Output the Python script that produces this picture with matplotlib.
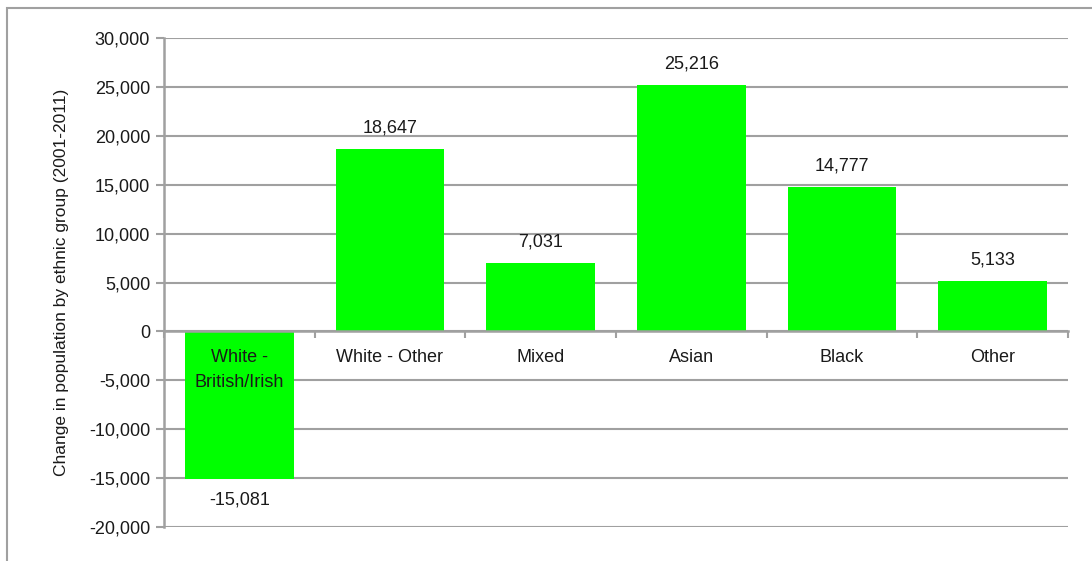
import matplotlib
matplotlib.use("Agg")
import matplotlib.pyplot as plt
from matplotlib.patches import Rectangle
from matplotlib.ticker import FuncFormatter, FixedLocator
from matplotlib import font_manager

categories = ["White -\nBritish/Irish", "White - Other", "Mixed", "Asian", "Black", "Other"]
values = [-15081, 18647, 7031, 25216, 14777, 5133]
value_labels = ["-15,081", "18,647", "7,031", "25,216", "14,777", "5,133"]
y_ticks = [-20000, -15000, -10000, -5000, 0, 5000, 10000, 15000, 20000, 25000, 30000]
y_label = "Change in population by ethnic group (2001-2011)"

names = {f.name for f in font_manager.fontManager.ttflist}
fam = [f for f in ["Liberation Sans Narrow", "Liberation Sans", "DejaVu Sans"] if f in names]
plt.rcParams['font.family'] = fam

GRID = "#a0a0a0"
TXT = "#1a1a1a"
GREEN = "#00ff00"

fig = plt.figure(figsize=(10.92, 5.61), dpi=100)
W, H = 1092, 561
# figure border
fig.patches.append(Rectangle((7 / W, -0.1), 1.2, 1 - 8 / H + 0.1, transform=fig.transFigure,
                             fill=False, edgecolor=GRID, linewidth=1.5, zorder=0))

ax = fig.add_axes([164 / W, 1 - 527 / H, (1068 - 164) / W, (527 - 38) / H])
x = list(range(len(categories)))
ax.bar(x, values, width=0.72, color=GREEN, zorder=2)
ax.set_xlim(-0.5, len(categories) - 0.5)
ax.set_ylim(-20000, 30000)
ax.yaxis.set_major_locator(FixedLocator(y_ticks))
ax.yaxis.set_major_formatter(FuncFormatter(lambda v, p: f"{int(v):,}"))
ax.grid(axis='y', color=GRID, linewidth=1.5, zorder=1)
ax.set_axisbelow(True)

for s in ['top', 'right']:
    ax.spines[s].set_visible(False)
ax.spines['left'].set_color(GRID)
ax.spines['left'].set_linewidth(1.8)
ax.spines['bottom'].set_position(('data', 0))
ax.spines['bottom'].set_color(GRID)
ax.spines['bottom'].set_linewidth(1.8)
ax.spines['bottom'].set_zorder(3)
ax.spines['left'].set_zorder(3)

ax.set_xticks([i + 0.5 for i in range(-1, len(categories))])
ax.set_xticklabels([])
ax.tick_params(axis='x', direction='out', length=5, width=1.5, color=GRID)
ax.tick_params(axis='y', direction='out', length=6, width=1.5, color=GRID,
               labelsize=13, labelcolor=TXT, pad=4)

for i, (c, v, lab) in enumerate(zip(categories, values, value_labels)):
    ax.annotate(c, (i, 0), xytext=(0, -13), textcoords='offset points',
                ha='center', va='top', fontsize=13, color=TXT,
                linespacing=1.6, zorder=4)
    off = 15 if v >= 0 else -15
    ax.annotate(lab, (i, v), xytext=(0, off), textcoords='offset points',
                ha='center', va='center', fontsize=13, color=TXT)

ax.set_ylabel(y_label, fontsize=12.5, color=TXT, labelpad=14)

fig.savefig("out.png", dpi=100)
